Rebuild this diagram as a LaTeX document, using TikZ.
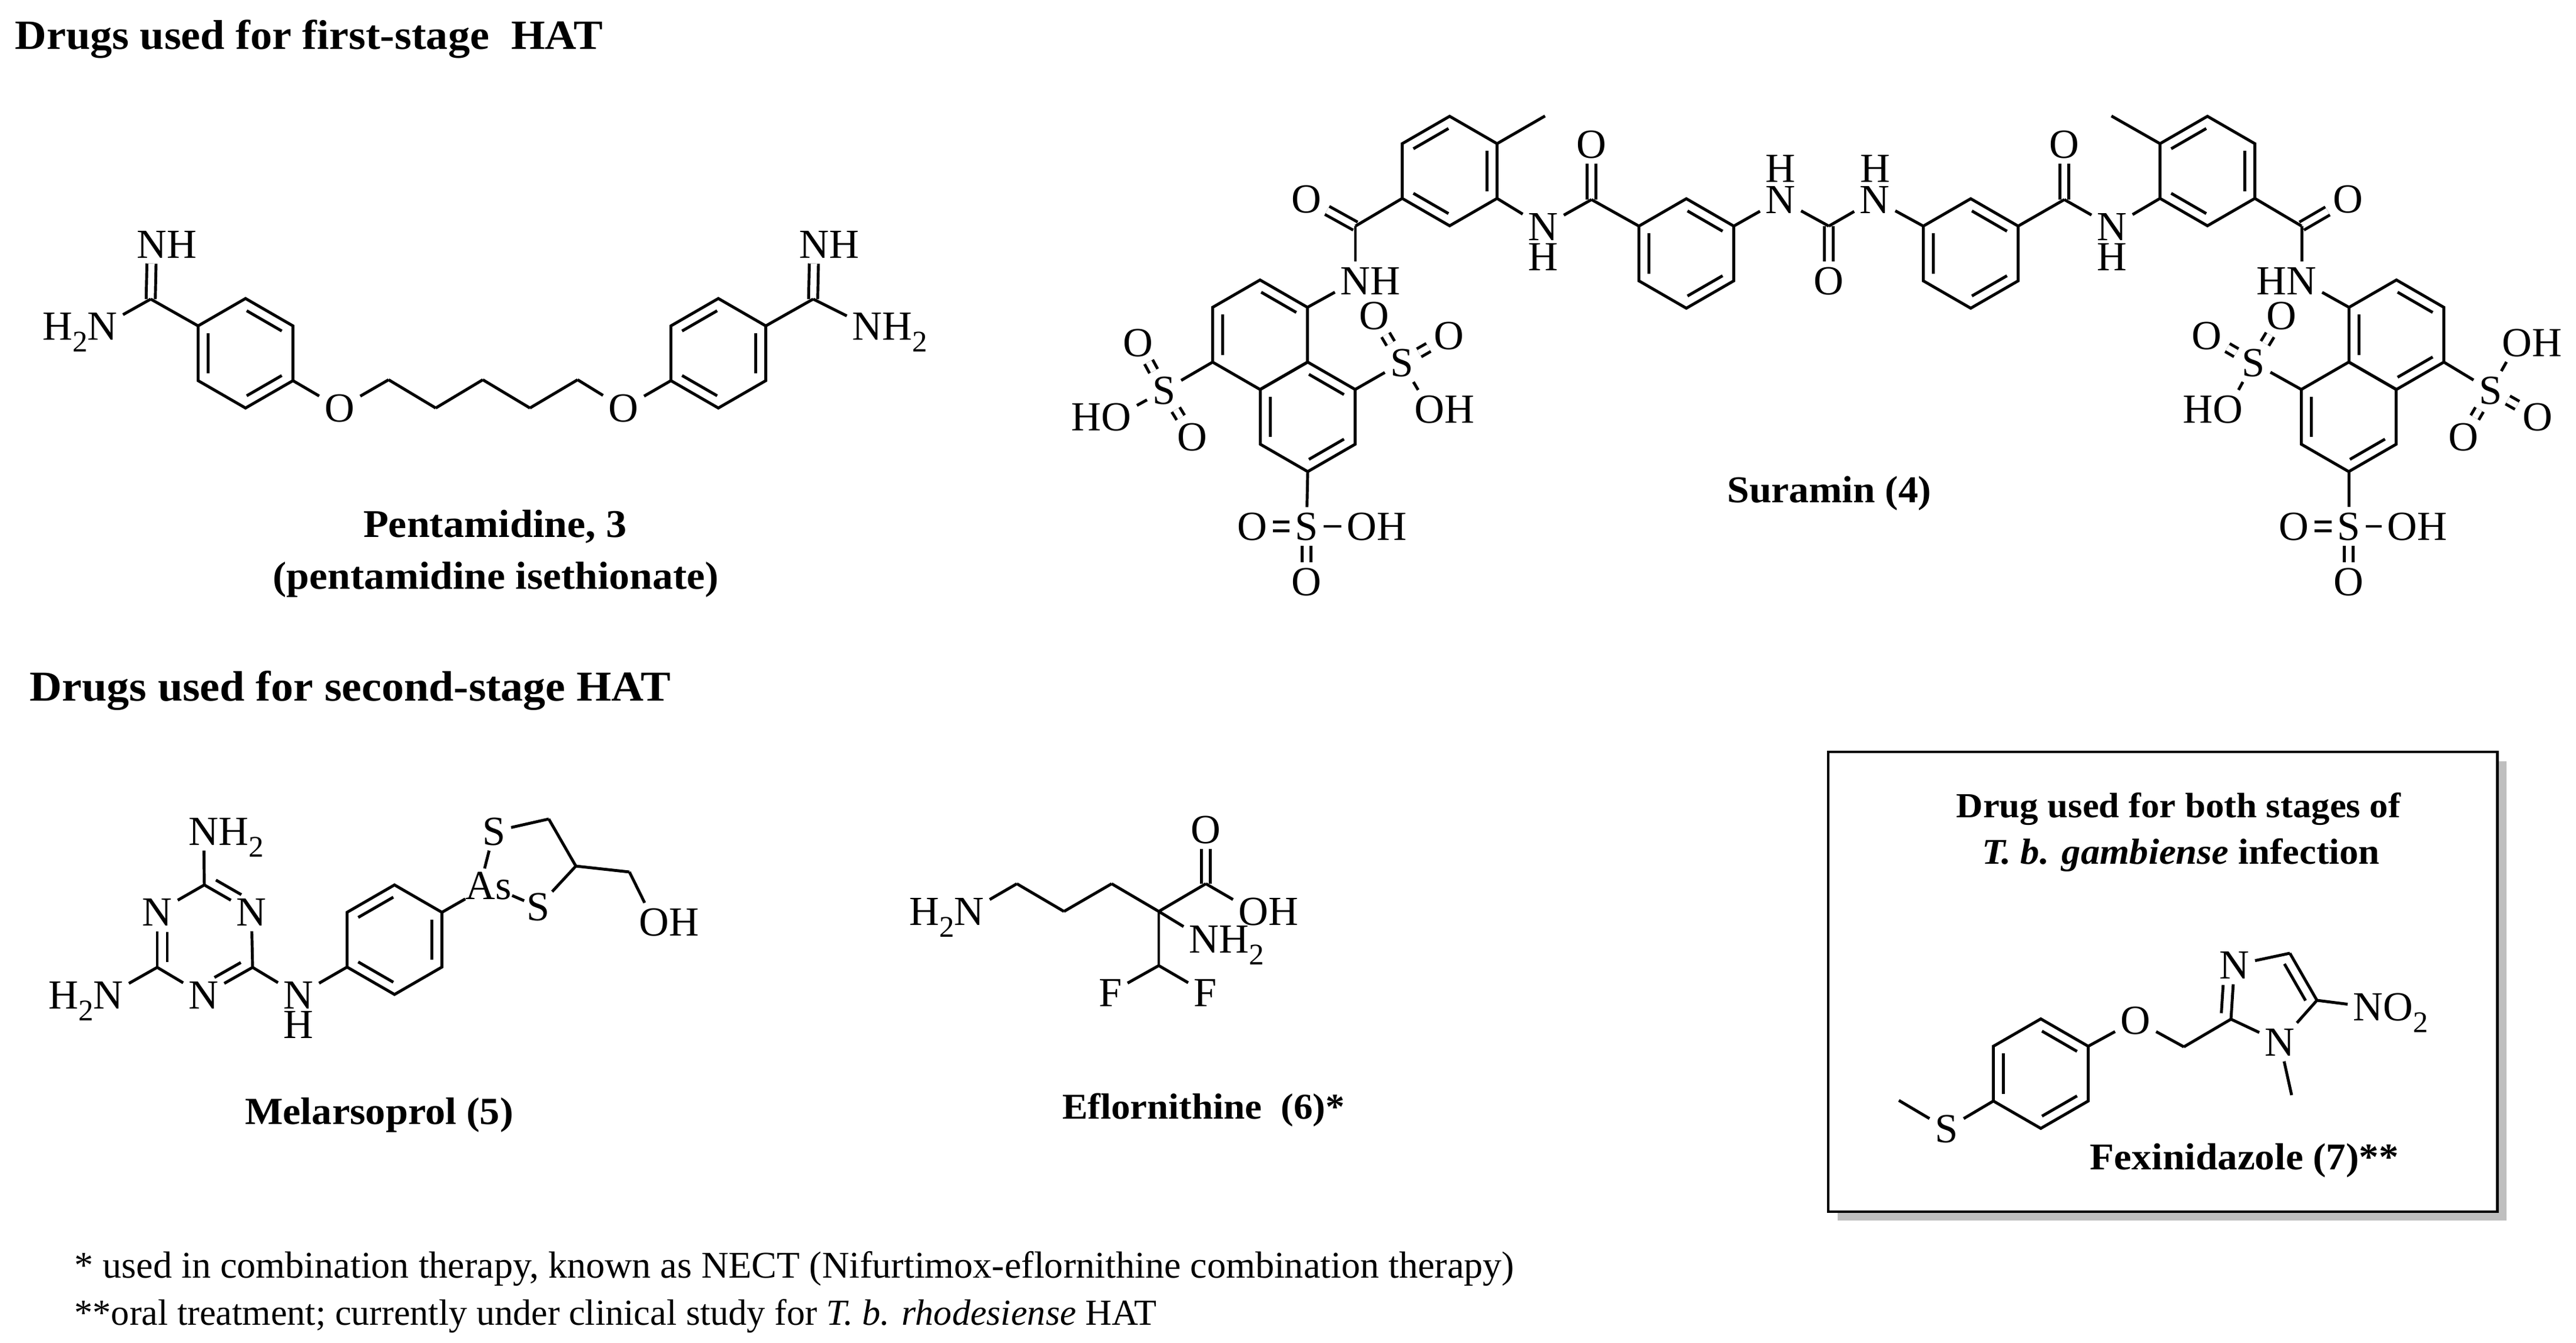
\documentclass[tikz,border=0pt]{standalone}
\usepackage{fontspec}
\usetikzlibrary{calc}
\setmainfont{Liberation Serif}
\newfontfamily\capfont[FakeStretch=1.05]{Liberation Serif}
\newcommand{\lowtwo}{\smash{\raisebox{-5.8pt}{\fontsize{14.5}{14.5}\selectfont 2}}}
\tikzset{
bond/.style={line width=1.4pt},
twobond/.style={line width=1.4pt,double,double distance=3pt},
atom/.style={font=\fontsize{20}{24}\selectfont,inner sep=2.5pt,text height=13.2pt,text depth=0pt},
title/.style={font=\capfont\bfseries\fontsize{#1}{22}\selectfont,inner sep=0pt,anchor=base},
title/.default=18.5,
note/.style={font=\fontsize{#1}{22}\selectfont,inner sep=0pt,anchor=base west}
}
\newcommand{\ringpart}[4]{\draw[bond] ($(#1)!#3!(#2)!.17cm!90:(#2)$) -- ($(#2)!#4!(#1)!.17cm!-90:(#1)$);}
\newcommand{\ringdbl}[2]{\ringpart{#1}{#2}{.13}{.13}}
\newcommand{\hexring}[4]{
\foreach \i [evaluate=\i as \a using -30-60*\i] in {1,...,6}{
\coordinate (#1\i) at ($(#2,#3)+(\a:.93)$);
}
\draw[bond] (#11)--(#12)--(#13)--(#14)--(#15)--(#16)--cycle;
\foreach \p/\q in {#4}{\ringdbl{#1\p}{#1\q}}
}
\begin{document}
\begin{tikzpicture}[x=1cm,y=-1cm]
\useasboundingbox (0,0) rectangle (43.75,22.81);

% headings
\node[title=20.1,anchor=base west] (head1) at (.25,.84) {Drugs used for first-stage\ \ HAT};
\node[title=20.6,anchor=base west] (head2) at (.50,11.90) {Drugs used for second-stage HAT};

% pentamidine
\hexring{pra}{4.17}{6.00}{6/1,2/3,4/5}
\hexring{prb}{12.20}{6.00}{1/2,3/4,5/6}
\coordinate (pca) at (2.56,5.08);
\coordinate (pcb) at (13.81,5.08);
\foreach \n/\x/\y in {pc1/6.60/6.45,pc2/7.40/6.93,pc3/8.20/6.45,pc4/9.00/6.93,pc5/9.81/6.45}{
\coordinate (\n) at (\x,\y);
}
\node[atom] (pna) at (2.58,4.15) {N\rlap{H}};
\node[atom] (pnb) at (1.74,5.54) {\llap{H\lowtwo}N};
\node[atom] (pnc) at (13.83,4.15) {N\rlap{H}};
\node[atom] (pnd) at (14.73,5.54) {N\rlap{H\lowtwo}};
\node[atom] (poa) at (5.77,6.93) {O};
\node[atom] (pob) at (10.59,6.93) {O};
\draw[twobond] (pca)--(pna);
\draw[twobond] (pcb)--(pnc);
\foreach \a/\b in {pca/pnb,pca/pra2,pcb/pnd,pcb/prb6,pra5/poa,poa/pc1,pc1/pc2,pc2/pc3,pc3/pc4,pc4/pc5,pc5/pob,pob/prb3}{
\draw[bond] (\a)--(\b);
}
\node[title=19] (pcap1) at (8.41,9.12) {Pentamidine, 3};
\node[title=18.9] (pcap2) at (8.42,10.00) {(pentamidine isethionate)};

% suramin
\hexring{sra}{24.62}{2.905}{1/2,3/4,5/6}
\hexring{srb}{28.64}{4.305}{6/1,2/3,4/5}
\hexring{src}{33.47}{4.305}{6/1,2/3,4/5}
\hexring{srd}{37.49}{2.905}{1/2,3/4,5/6}
\hexring{sua}{21.40}{5.685}{6/1,2/3}
\hexring{sub}{22.21}{7.08}{6/1,2/3,4/5}
\hexring{suc}{40.70}{5.685}{6/1,2/3,4/5}
\hexring{sud}{39.89}{7.08}{2/3,4/5}
\foreach \n/\x/\y in {sca/23.02/3.84,scb/27.03/3.39,scc/31.06/3.84,scd/35.06/3.39,sce/39.09/3.84,sma/26.24/1.97,smb/35.86/1.97}{
\coordinate (\n) at (\x,\y);
}
\foreach \n/\x/\y in {soa/22.19/3.38,sob/27.03/2.45,soc/31.06/4.77,sod/35.06/2.45,soe/39.88/3.38,
sof/19.33/5.82,sog/20.25/7.42,soh/23.34/5.36,soi/24.61/5.70,soj/21.27/8.94,sok/22.19/9.88,
sol/38.75/5.36,som/37.48/5.70,son/41.84/7.42,soo/43.10/7.08,sop/38.96/8.94,soq/39.89/9.88}{
\node[atom] (\n) at (\x,\y) {O};
}
\foreach \n/\x/\y in {ssa/19.77/6.63,ssb/23.81/6.16,ssc/22.19/8.94,ssd/38.27/6.16,sse/42.30/6.63,ssf/39.89/8.94}{
\node[atom] (\n) at (\x,\y) {S};
}
\foreach \n/\x/\y in {sna/26.21/3.85,snb/30.24/3.39,snc/31.84/3.39,snd/35.87/3.85}{
\node[atom] (\n) at (\x,\y) {N};
}
\foreach \n/\x/\y in {sha/26.21/4.36,shb/30.24/2.86,shc/31.85/2.86,shd/35.87/4.36}{
\node[atom] (\n) at (\x,\y) {H};
}
\node[atom] (sne) at (23.02,4.77) {N\rlap{H}};
\node[atom] (snf) at (39.09,4.77) {\llap{H}N};
\node[atom] (sha1) at (18.96,7.08) {\llap{H}O};
\node[atom] (sha2) at (24.28,6.95) {O\rlap{H}};
\node[atom] (sha3) at (23.13,8.94) {O\rlap{H}};
\node[atom] (sha4) at (37.84,6.95) {\llap{H}O};
\node[atom] (sha5) at (42.75,5.82) {O\rlap{H}};
\node[atom] (sha6) at (40.80,8.94) {O\rlap{H}};
\foreach \a/\b in {sca/soa,scb/sob,scc/soc,scd/sod,sce/soe,ssa/sof,ssa/sog,ssb/soh,ssb/soi,ssc/soj,ssc/sok,ssd/sol,ssd/som,sse/son,sse/soo,ssf/sop,ssf/soq}{
\draw[twobond] (\a)--(\b);
}
\foreach \a/\b in {sra3/sca,sca/sne,sne/sua6,sra6/sma,sra5/sna,sna/scb,scb/srb2,srb6/snb,snb/scc,scc/snc,snc/src2,src6/scd,scd/snd,snd/srd3,srd2/smb,srd5/sce,sce/snf,snf/suc2,
sua3/ssa,ssa/sha1,sub6/ssb,ssb/sha2,sub4/ssc,ssc/sha3,sud2/ssd,ssd/sha4,suc5/sse,sse/sha5,sud4/ssf,ssf/sha6}{
\draw[bond] (\a)--(\b);
}
\node[title=18.3] (scap) at (31.07,8.53) {Suramin (4)};

% melarsoprol
\hexring{mra}{6.70}{15.96}{1/2,3/4,5/6}
\foreach \n/\x/\y in {mca/3.47/15.03,mcb/4.29/16.43,mcc/2.67/16.43,mcd/9.32/13.91,mce/9.78/14.71,mcf/10.69/14.81}{
\coordinate (\n) at (\x,\y);
}
\node[atom] (mna) at (2.67,15.49) {N};
\node[atom] (mnb) at (4.27,15.49) {N};
\node[atom] (mnc) at (3.46,16.90) {N};
\node[atom] (mnd) at (3.46,14.12) {N\rlap{H\lowtwo}};
\node[atom] (mne) at (1.84,16.90) {\llap{H\lowtwo}N};
\node[atom] (mnf) at (5.07,16.90) {N};
\node[atom] (mhf) at (5.07,17.40) {H};
\node[atom,inner sep=0pt] (mas) at (8.30,15.04) {As};
\node[atom] (msa) at (8.39,14.12) {S};
\node[atom,inner sep=1pt] (msb) at (9.14,15.40) {S};
\node[atom] (moh) at (11.11,15.66) {O\rlap{H}};
\foreach \a/\b in {mca/mna,mca/mnb,mnb/mcb,mcb/mnc,mnc/mcc,mcc/mna,mca/mnd,mcc/mne,mcb/mnf,mnf/mra3,mra6/mas,mas/msb,msb/mce,mce/mcd,mcd/msa,mce/mcf,mcf/moh}{
\draw[bond] (\a)--(\b);
}
\draw[bond] ($(mas.north)+(-.07,-.05)$)--(msa);
\ringpart{mca}{mnb}{.14}{.32}
\ringpart{mna}{mcc}{.36}{.1}
\ringpart{mnc}{mcb}{.32}{.14}
\node[title=18.5] (mcap) at (6.44,19.09) {Melarsoprol (5)};

% eflornithine
\foreach \n/\x/\y in {eca/17.27/15.01,ecb/18.07/15.48,ecc/18.88/15.01,ecd/19.68/15.48,ece/20.48/15.01,ecf/19.68/16.40}{
\coordinate (\n) at (\x,\y);
}
\node[atom] (ena) at (16.46,15.48) {\llap{H\lowtwo}N};
\node[atom] (enb) at (20.45,15.95) {N\rlap{H\lowtwo}};
\node[atom] (eoa) at (20.48,14.09) {O};
\node[atom] (eob) at (21.29,15.48) {O\rlap{H}};
\node[atom] (efa) at (18.86,16.86) {F};
\node[atom] (efb) at (20.47,16.86) {F};
\draw[twobond] (ece)--(eoa);
\foreach \a/\b in {ena/eca,eca/ecb,ecb/ecc,ecc/ecd,ecd/ece,ece/eob,ecd/enb,ecd/ecf,ecf/efa,ecf/efb}{
\draw[bond] (\a)--(\b);
}
\node[title=17.6] (ecap) at (20.44,19.00) {Eflornithine\ \ (6)*};

% fexinidazole box
\fill[black!25] (31.21,12.93) rectangle (42.57,20.73);
\draw[line width=1.4pt,fill=white] (31.05,12.77) rectangle (42.41,20.58);
\node[title=17] (fhead1) at (37.00,13.88) {Drug used for both stages of};
\node[title=17.5] (fhead2) at (37.04,14.67) {\textit{T. b. gambiense} infection};
\hexring{fra}{34.66}{18.235}{6/1,2/3,4/5}
\foreach \n/\x/\y in {fca/37.09/17.78,fcb/37.89/17.31,fcc/38.89/16.19,fcd/39.35/16.99,fma/32.25/18.69,fmb/38.92/18.60}{
\coordinate (\n) at (\x,\y);
}
\node[atom] (fsa) at (33.06,19.17) {S};
\node[atom] (foa) at (36.27,17.33) {O};
\node[atom] (fna) at (37.95,16.39) {N};
\node[atom] (fnb) at (38.72,17.70) {N};
\node[atom] (fnc) at (40.22,17.10) {N\rlap{O\lowtwo}};
\draw[bond] (fma)--(fsa);
\foreach \a/\b in {fsa/fra3,fra6/foa,foa/fca,fca/fcb,fcb/fna,fcb/fnb,fna/fcc,fcc/fcd,fcd/fnb,fcd/fnc,fnb/fmb}{
\draw[bond] (\a)--(\b);
}
\ringpart{fcb}{fna}{.1}{.38}
\ringpart{fcd}{fcc}{.1}{.12}
\node[title=18.2] (fcap) at (38.12,19.86) {Fexinidazole (7)**};

% notes
\node[note=18.25] (noa) at (1.26,21.70) {* used in combination therapy, known as NECT (Nifurtimox-eflornithine combination therapy)};
\node[note=17.7] (nob) at (1.26,22.50) {**oral treatment; currently under clinical study for \textit{T. b. rhodesiense} HAT};
\end{tikzpicture}
\end{document}
